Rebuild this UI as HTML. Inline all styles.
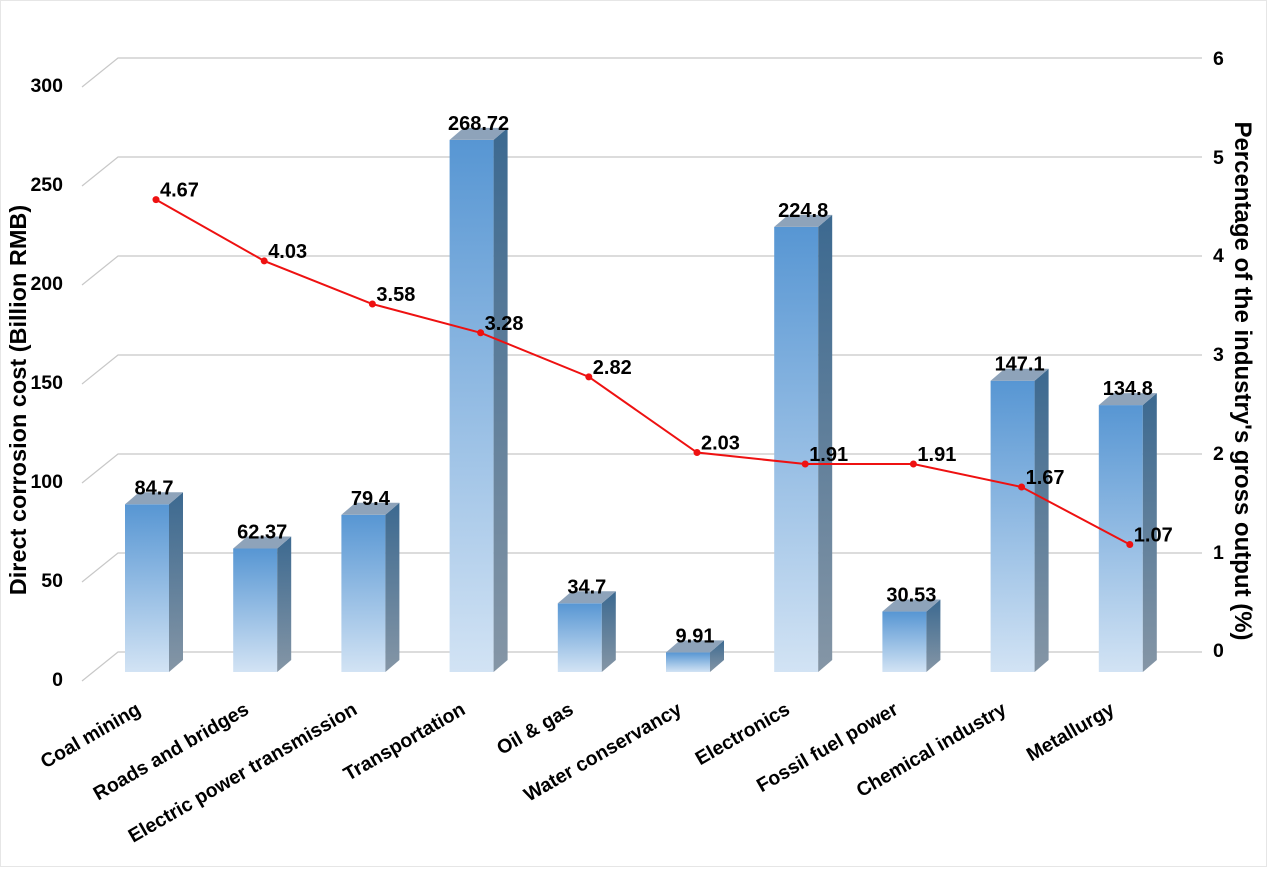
<!DOCTYPE html>
<html><head><meta charset="utf-8"><style>
html,body{margin:0;padding:0;background:#fff;}
svg text{font-family:"Liberation Sans",Arial,sans-serif;font-weight:bold;fill:#000;}
</style></head><body>
<svg width="1267" height="872" viewBox="0 0 1267 872" xmlns="http://www.w3.org/2000/svg">
<defs>
<linearGradient id="gf" x1="0" y1="0" x2="0" y2="1"><stop offset="0" stop-color="#5796d3"/><stop offset="1" stop-color="#d2e3f4"/></linearGradient>
<linearGradient id="gs" x1="0" y1="0" x2="0" y2="1"><stop offset="0" stop-color="#3c6990"/><stop offset="1" stop-color="#8596a6"/></linearGradient>
</defs>
<rect x="0.5" y="0.5" width="1266" height="866" fill="#fff" stroke="#e6e6e6"/>
<g stroke="#c8c8c8" stroke-width="1.2" fill="none" id="grid"></g>
<g id="bars"></g>
<polyline id="line" fill="none" stroke="#ee1111" stroke-width="2"/>
<g id="dots" fill="#ee1111"></g>
<g id="labels" font-size="20"></g>
<g id="xl" font-size="19.5"></g>
<g font-size="19.5" text-anchor="end">
<text x="63" y="92">300</text><text x="63" y="191">250</text><text x="63" y="290">200</text><text x="63" y="389">150</text><text x="63" y="488">100</text><text x="63" y="587">50</text><text x="63" y="686">0</text>
</g>
<g font-size="19.5" text-anchor="start">
<text x="1213" y="65">6</text><text x="1213" y="164">5</text><text x="1213" y="262">4</text><text x="1213" y="361">3</text><text x="1213" y="460">2</text><text x="1213" y="559">1</text><text x="1213" y="657">0</text>
</g>
<text font-size="23.5" text-anchor="middle" transform="translate(26,400) rotate(-90)">Direct corrosion cost (Billion RMB)</text>
<text font-size="24" text-anchor="middle" transform="translate(1235,381) rotate(90)">Percentage of the industry's gross output (%)</text>
</svg>
<script>
var ns="http://www.w3.org/2000/svg";
function el(t,a,p,txt){var e=document.createElementNS(ns,t);for(var k in a)e.setAttribute(k,a[k]);if(txt)e.textContent=txt;document.getElementById(p).appendChild(e);return e;}
for(var i=0;i<=6;i++){var y=652-i*99;el("polyline",{points:"82,"+(y+29)+" 118,"+y+" 1202,"+y},"grid");}
var names=["Coal mining","Roads and bridges","Electric power transmission","Transportation","Oil & gas","Water conservancy","Electronics","Fossil fuel power","Chemical industry","Metallurgy"];
var vals=[84.7,62.37,79.4,268.72,34.7,9.91,224.8,30.53,147.1,134.8];
var vlab=["84.7","62.37","79.4","268.72","34.7","9.91","224.8","30.53","147.1","134.8"];
var pct=[4.67,4.03,3.58,3.28,2.82,2.03,1.91,1.91,1.67,1.07];
var pts=[];
for(var i=0;i<10;i++){
 var x=125+108.2*i,w=44,b=672,t=b-vals[i]*1.98,dx=14,dy=12;
 el("rect",{x:x,y:t,width:w,height:b-t,fill:"url(#gf)"},"bars");
 el("polygon",{points:(x+w)+","+t+" "+(x+w+dx)+","+(t-dy)+" "+(x+w+dx)+","+(b-dy)+" "+(x+w)+","+b,fill:"url(#gs)"},"bars");
 el("polygon",{points:x+","+t+" "+(x+dx)+","+(t-dy)+" "+(x+w+dx)+","+(t-dy)+" "+(x+w)+","+t,fill:"#8ea3ba"},"bars");
 el("text",{x:x+w/2+7,y:t-10,"text-anchor":"middle"},"labels",vlab[i]);
 var px=156+108.2*i,py=647-95.8*pct[i];pts.push(px+","+py);
 el("circle",{cx:px,cy:py,r:3.5},"dots");
 el("text",{x:px+4,y:py-3},"labels",pct[i].toFixed(2));
 el("text",{x:x+17,y:713,"text-anchor":"end",transform:"rotate(-30 "+(x+17)+" 713)"},"xl",names[i]);
}
document.getElementById("line").setAttribute("points",pts.join(" "));
</script>
</body></html>
